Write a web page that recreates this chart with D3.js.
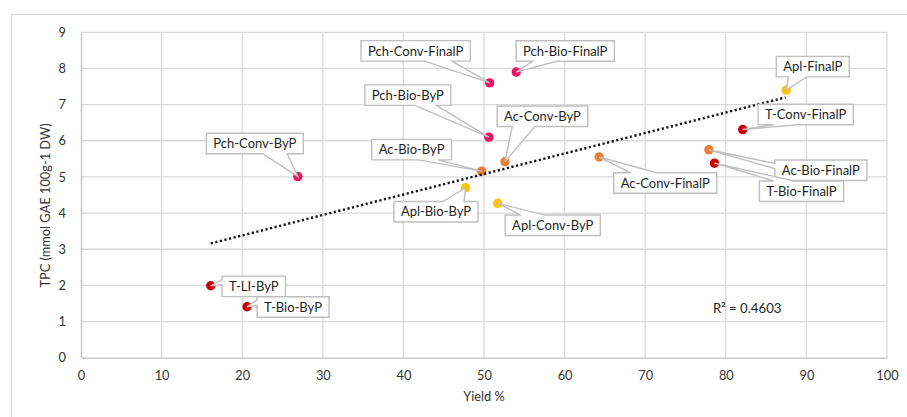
<!DOCTYPE html>
<html>
<head>
<meta charset="utf-8">
<script src="https://cdn.jsdelivr.net/npm/d3@7"></script>
<style>
  body { margin: 0; background: #fff; }
  svg text { font-family: Lato, "Open Sans", sans-serif; fill: #333; }
  .tick text { font-size: 12.8px; fill: #333; }
  .callout text { font-size: 13px; fill: #1f1f1f; }
</style>
</head>
<body>
<div id="chart"></div>
<script>
// data
const names = ["Pch-Conv-ByP", "Pch-Conv-FinalP", "Pch-Bio-FinalP", "Pch-Bio-ByP",
               "Ac-Bio-ByP", "Ac-Conv-ByP", "Apl-Bio-ByP", "Apl-Conv-ByP",
               "Ac-Conv-FinalP", "Ac-Bio-FinalP", "T-Bio-FinalP", "T-Conv-FinalP",
               "Apl-FinalP", "T-LI-ByP", "T-Bio-ByP"];
const groups = ["Pch", "Pch", "Pch", "Pch", "Ac", "Ac", "Apl", "Apl",
                "Ac", "Ac", "T", "T", "Apl", "T", "T"];
const yieldPct = [26.9, 50.7, 54.0, 50.6, 49.7, 52.6, 47.7, 51.7,
                  64.3, 77.9, 78.6, 82.1, 87.5, 16.1, 20.6];
const tpc = [5.01, 7.60, 7.90, 6.10, 5.16, 5.42, 4.70, 4.27,
             5.55, 5.75, 5.38, 6.31, 7.40, 1.99, 1.41];
const trendX = [16.1, 87.4];
const trendY = [3.16, 7.20];
const r2Label = "R² = 0.4603";
const xTicks = [0, 10, 20, 30, 40, 50, 60, 70, 80, 90, 100];
const yTicks = [0, 1, 2, 3, 4, 5, 6, 7, 8, 9];

// layout: callout box centre relative to its point (px)
const calloutOffset = [[-43, -33], [-74, -32], [49, -21], [-81, -42],
                       [-70, -21.5], [37.5, -45.5], [-29.5, 24], [55, 22],
                       [66, 26], [112, 20.5], [87, 28], [63, -15],
                       [26.5, -23.5], [43, 0.6], [46, 0.3]];
const colors = {Pch: "#EE1263", Ac: "#ED7D31", Apl: "#FFC000", T: "#C80000"};

let svg = d3.select("#chart").append("svg")
  .attr("width", 907)
  .attr("height", 417);

svg.append("rect").attr("width", "100%").attr("height", "100%").attr("fill", "white");

// chart frame (cropped at right/bottom)
svg.append("rect")
  .attr("x", 11.5).attr("y", 14.5)
  .attr("width", 1000).attr("height", 1000)
  .attr("fill", "none")
  .attr("stroke", "#D9D9D9")
  .attr("stroke-width", 1.2);

let x = d3.scaleLinear().domain([0, 100]).range([81, 887]);
let y = d3.scaleLinear().domain([0, 9]).range([357.7, 32.3]);

// gridlines
let grid = svg.append("g").attr("stroke", "#D9D9D9").attr("stroke-width", 1.3);
grid.selectAll(".gx").data(xTicks.slice(1)).enter().append("line")
  .attr("x1", d => x(d)).attr("x2", d => x(d))
  .attr("y1", y(0)).attr("y2", y(9));
grid.selectAll(".gy").data(yTicks.slice(1)).enter().append("line")
  .attr("x1", x(0)).attr("x2", x(100))
  .attr("y1", d => y(d)).attr("y2", d => y(d));

// axes
let xAxis = svg.append("g")
  .attr("transform", "translate(0," + y(0) + ")")
  .call(d3.axisBottom(x).tickValues(xTicks).tickSize(0).tickPadding(13));
let yAxis = svg.append("g")
  .attr("transform", "translate(" + x(0) + ",0)")
  .call(d3.axisLeft(y).tickValues(yTicks).tickSize(0).tickPadding(15));
[xAxis, yAxis].forEach(a => a.select(".domain").attr("stroke", "#BFBFBF").attr("stroke-width", 1.3));

svg.append("text")
  .attr("x", x(50)).attr("y", 401)
  .attr("text-anchor", "middle")
  .style("font-size", "12.8px")
  .text("Yield %");

svg.append("text")
  .attr("text-anchor", "middle")
  .attr("transform", "translate(50,205.5)rotate(-90)")
  .style("font-size", "12.8px")
  .text("TPC (mmol GAE 100g-1 DW)");

// points
let pts = names.map((n, i) => ({name: n, group: groups[i], x: yieldPct[i], y: tpc[i], off: calloutOffset[i]}));

svg.append("g").selectAll("circle")
  .data(pts).enter().append("circle")
  .attr("cx", d => x(d.x))
  .attr("cy", d => y(d.y))
  .attr("r", 4.7)
  .attr("fill", d => colors[d.group]);

// trendline
svg.append("path")
  .datum(trendX.map((v, i) => [v, trendY[i]]))
  .attr("d", d3.line().x(d => x(d[0])).y(d => y(d[1])))
  .attr("stroke", "#111")
  .attr("stroke-width", 2.4)
  .attr("stroke-dasharray", "2.2,2.5")
  .attr("fill", "none");

svg.append("text")
  .attr("x", 713).attr("y", 312.5)
  .style("font-size", "13.2px")
  .style("fill", "#1f1f1f")
  .text(r2Label);

// callouts (rectangle with wedge to the point, like office data callouts)
function calloutPath(l, t, w, h, px, py){
  let cx = l + w/2, cy = t + h/2, dx = px - cx, dy = py - cy;
  let vert = Math.abs(dy) - Math.abs(dx*h/w) > 0;
  let x1 = l + w*(dx > 0 ? 7 : 2)/12, x2 = l + w*(dx > 0 ? 10 : 5)/12;
  let y1 = t + h*(dy > 0 ? 7 : 2)/12, y2 = t + h*(dy > 0 ? 10 : 5)/12;
  let r = l + w, b = t + h;
  let p = [[l, t]];
  if (vert && dy < 0) p.push([x1, t], [px, py], [x2, t]);
  p.push([r, t]);
  if (!vert && dx > 0) p.push([r, y1], [px, py], [r, y2]);
  p.push([r, b]);
  if (vert && dy > 0) p.push([x2, b], [px, py], [x1, b]);
  p.push([l, b]);
  if (!vert && dx < 0) p.push([l, y2], [px, py], [l, y1]);
  return d3.line()(p) + "Z";
}

let callouts = svg.append("g").selectAll(".callout")
  .data(pts).enter().append("g")
  .attr("class", "callout");

callouts.each(function(d){
  let g = d3.select(this);
  let px = x(d.x), py = y(d.y);
  let cx = px + d.off[0], cy = py + d.off[1];
  let path = g.append("path");
  let txt = g.append("text")
    .attr("x", cx).attr("y", cy)
    .attr("dy", "0.36em")
    .attr("text-anchor", "middle")
    .text(d.name);
  let w = txt.node().getComputedTextLength() + 14, h = 20.5;
  path.attr("d", calloutPath(cx - w/2, cy - h/2, w, h, px, py))
    .attr("fill", "white")
    .attr("stroke", "#BFBFBF")
    .attr("stroke-width", 1.4)
    .attr("stroke-linejoin", "miter");
});
</script>
</body>
</html>
